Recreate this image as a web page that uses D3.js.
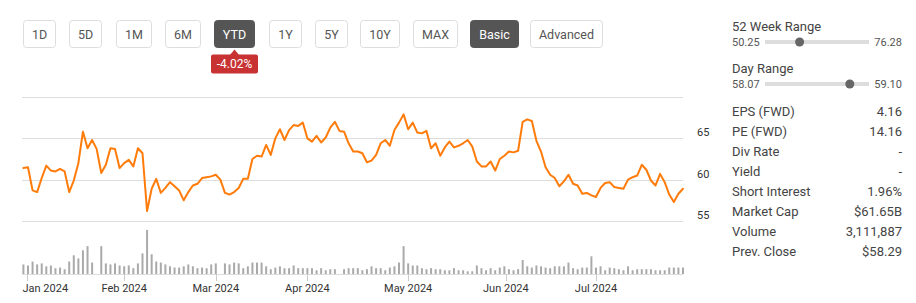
<!DOCTYPE html>
<html>
<head>
<meta charset="utf-8">
<script src="https://cdn.jsdelivr.net/npm/d3@7"></script>
<style>
  html, body { margin: 0; padding: 0; background: #fff; }
  svg { display: block; font-family: Roboto, "Noto Sans", sans-serif; }
</style>
</head>
<body>
<svg id="chart" width="916" height="303"></svg>
<script>
// ---------- data ----------
const rangeButtons = ["1D", "5D", "1M", "6M", "YTD", "1Y", "5Y", "10Y", "MAX"];
const modeButtons = ["Basic", "Advanced"];
const activeRange = "YTD";
const activeMode = "Basic";
const ytdChange = "-4.02%";

const prices = [
  61.4, 61.5, 58.7, 58.5, 60.2, 61.7, 61.1, 61.0, 61.3, 61.0,
  58.5, 59.9, 62.0, 65.8, 63.8, 64.8, 63.7, 60.8, 61.8, 63.8,
  63.7, 61.4, 62.0, 62.4, 61.6, 63.8, 63.2, 56.2, 58.9, 60.1,
  58.4, 59.0, 59.7, 59.2, 58.7, 57.5, 58.5, 59.3, 59.5, 60.2,
  60.3, 60.4, 60.6, 60.0, 58.4, 58.2, 58.5, 59.0, 60.1, 60.1,
  62.5, 62.9, 62.8, 64.2, 63.0, 65.0, 66.1, 64.8, 66.0, 66.6,
  66.5, 66.9, 65.0, 64.6, 65.3, 64.5, 65.1, 66.3, 67.0, 65.9,
  65.8, 64.4, 63.4, 63.4, 63.2, 62.1, 62.3, 63.0, 64.4, 64.8,
  64.1, 66.0, 66.9, 67.9, 66.1, 66.9, 65.7, 65.6, 65.9, 63.8,
  64.4, 62.9, 63.9, 64.6, 63.9, 64.1, 64.4, 64.8, 64.0, 62.2,
  61.6, 61.6, 62.2, 61.1, 62.5, 62.9, 63.4, 63.3, 63.5, 67.0,
  67.3, 67.1, 64.7, 63.4, 61.5, 60.6, 60.2, 59.2, 59.8, 60.6,
  59.5, 59.3, 58.3, 58.4, 58.1, 57.9, 59.0, 59.6, 59.7, 59.1,
  59.0, 58.9, 60.0, 60.3, 60.5, 61.8, 61.2, 59.9, 59.3, 60.7,
  59.7, 58.2, 57.3, 58.3, 58.9
];

// volume in millions of shares (null = no bar)
const volumes = [
  4.6, 4.1, 6.0, 4.6, 5.1, 3.7, 4.1, 2.8, 3.1, 2.3,
  6.0, 9.0, 7.5, 11.4, 13.4, 5.5, null, 13.4, 5.1, 4.6,
  5.1, 4.1, 3.7, 4.1, 2.8, 5.1, 9.9, 21.2, 9.5, 6.0,
  5.5, 4.6, 3.7, 3.1, 3.1, 3.7, 4.6, 3.7, 2.8, 3.1,
  2.8, 4.6, 5.1, null, 5.1, 4.6, 5.5, 5.1, 2.8, 3.7,
  5.5, 5.5, 5.5, 3.7, 2.3, 3.1, 3.7, 2.8, 2.8, 4.1,
  2.8, 2.8, 2.8, 2.8, 1.8, 2.8, 1.8, 2.3, 2.3, null,
  2.3, 2.8, 2.8, 2.8, 1.8, 2.3, 3.7, 2.8, 2.8, 1.8,
  3.1, 3.7, 5.5, 13.4, 5.1, 4.1, 4.1, 2.8, 2.3, 2.8,
  2.3, 2.3, 1.8, 1.8, 2.8, 1.8, 1.8, 1.3, 1.3, 4.1,
  2.8, 1.8, 2.8, 1.8, 3.1, 3.7, 2.3, 1.8, 2.3, 6.7,
  3.7, 3.1, 4.1, 3.7, 3.1, 2.8, 3.7, 3.7, 3.7, 5.5,
  2.8, 2.3, 3.1, 3.1, 8.5, 3.1, 3.7, 1.8, 3.1, 2.8,
  2.3, 1.8, 3.7, 1.8, 2.3, 2.3, 2.3, 2.3, 1.8, 1.8,
  1.8, 3.1, 3.1, 3.1, 3.1
];

// x-axis month ticks, positioned in trading-day index units
const monthTickIndex = [0.75, 22, 42, 62, 84, 105.33, 125];
const monthTickLabels = ["Jan 2024", "Feb 2024", "Mar 2024", "Apr 2024", "May 2024", "Jun 2024", "Jul 2024"];

const priceTicks = [55, 60, 65, 70];
const priceTickLabels = ["55", "60", "65", ""];

const week52 = { low: "50.25", high: "76.28", lowV: 50.25, highV: 76.28 };
const dayRange = { low: "58.07", high: "59.10", lowV: 58.07, highV: 59.10 };
const currentPrice = 58.91;

const statLabels = ["EPS (FWD)", "PE (FWD)", "Div Rate", "Yield", "Short Interest", "Market Cap", "Volume", "Prev. Close"];
const statValues = ["4.16", "14.16", "-", "-", "1.96%", "$61.65B", "3,111,887", "$58.29"];

// ---------- drawing ----------
const svg = d3.select("#chart");

// Buttons
const btnG = svg.append("g");
const allButtons = rangeButtons.map((t, i) => ({ t, group: 0, i }))
  .concat(modeButtons.map((t, i) => ({ t, group: 1, i })));
let bx = 22.5;
const btnTop = 20.5, btnH = 27;
const btnInfo = [];
allButtons.forEach((b, k) => {
  const active = b.t === activeRange || b.t === activeMode;
  const g = btnG.append("g");
  const txt = g.append("text")
    .attr("y", btnTop + btnH / 2)
    .attr("dominant-baseline", "central")
    .attr("text-anchor", "middle")
    .attr("font-size", 12.5)
    .attr("fill", active ? "#fff" : "#555")
    .text(b.t);
  const tw = txt.node().getComputedTextLength();
  const w = tw + 17;
  g.insert("rect", "text")
    .attr("x", Math.round(bx) + 0.5).attr("y", btnTop)
    .attr("width", Math.round(w)).attr("height", btnH)
    .attr("rx", 3)
    .attr("fill", active ? "#555" : "#fff")
    .attr("stroke", active ? "#555" : "#ddd");
  txt.attr("x", Math.round(bx) + 0.5 + Math.round(w) / 2);
  btnInfo.push({ t: b.t, x: Math.round(bx) + 0.5, w: Math.round(w) });
  const next = allButtons[k + 1];
  bx += w + (next && next.group !== b.group ? 12.5 : (b.group === 1 ? 12.5 : 14.3));
});

// YTD badge
const ytd = btnInfo.find(b => b.t === activeRange);
const bcx = ytd.x + ytd.w / 2;
const badge = svg.append("g");
const bw = 47, bh = 19, btop = 54.5;
badge.append("path")
  .attr("d", `M${bcx - 5},${btop + 1} L${bcx},${btop - 5} L${bcx + 5},${btop + 1} Z`)
  .attr("fill", "#c83232");
badge.append("rect")
  .attr("x", bcx - bw / 2).attr("y", btop)
  .attr("width", bw).attr("height", bh).attr("rx", 2)
  .attr("fill", "#c83232");
badge.append("text")
  .attr("x", bcx).attr("y", btop + bh / 2)
  .attr("dominant-baseline", "central").attr("text-anchor", "middle")
  .attr("font-size", 12).attr("fill", "#fff")
  .text(ytdChange);

// Scales
const x = d3.scaleLinear().domain([0, prices.length - 1]).range([23.4, 683]);
const y = d3.scaleLinear().domain([55, 70]).range([221, 97]);
const yv = d3.scaleLinear().domain([0, 25.5]).range([274, 221]);
const gridX0 = 22, gridX1 = 683;

// Gridlines
const grid = svg.append("g");
grid.selectAll("line").data(priceTicks).join("line")
  .attr("x1", gridX0).attr("x2", gridX1)
  .attr("y1", d => Math.round(y(d)) + 0.5).attr("y2", d => Math.round(y(d)) + 0.5)
  .attr("stroke", "#ddd").attr("stroke-width", 1);

// Price axis labels
svg.append("g").selectAll("text").data(priceTicks).join("text")
  .attr("x", 697)
  .attr("y", d => y(d) - 5.5)
  .attr("dominant-baseline", "central")
  .attr("font-size", 11)
  .attr("fill", "#333")
  .text((d, i) => priceTickLabels[i]);

// Volume bars
svg.append("g").selectAll("rect")
  .data(volumes.map((v, i) => ({ v, i })).filter(d => d.v != null))
  .join("rect")
  .attr("x", d => x(d.i) - 1)
  .attr("width", 2)
  .attr("y", d => yv(d.v))
  .attr("height", d => yv(0) - yv(d.v))
  .attr("fill", "#aaa");

// Volume baseline
svg.append("line")
  .attr("x1", gridX0).attr("x2", gridX1)
  .attr("y1", 274.5).attr("y2", 274.5)
  .attr("stroke", "#ddd");

// Month ticks
const xt = svg.append("g");
xt.selectAll("line").data(monthTickIndex).join("line")
  .attr("x1", d => Math.round(x(d)) + 0.5).attr("x2", d => Math.round(x(d)) + 0.5)
  .attr("y1", 274).attr("y2", 281)
  .attr("stroke", "#ccc");
xt.selectAll("text").data(monthTickIndex).join("text")
  .attr("y", 288)
  .attr("dominant-baseline", "central")
  .attr("text-anchor", "start")
  .attr("font-size", 11)
  .attr("fill", "#333")
  .text((d, i) => monthTickLabels[i])
  .attr("x", function (d) {
    const w = this.getComputedTextLength();
    return Math.max(gridX0 + 0.5, x(d) - w / 2);
  });

// Price line
svg.append("path")
  .datum(prices)
  .attr("d", d3.line().x((d, i) => x(i)).y(d => y(d)))
  .attr("fill", "none")
  .attr("stroke", "#ff7b0a")
  .attr("stroke-width", 2)
  .attr("stroke-linejoin", "round")
  .attr("stroke-linecap", "round");

// Right panel
const rp = svg.append("g");
const rx0 = 732, rx1 = 902;
function rangeBlock(title, r, ty) {
  rp.append("text").attr("x", rx0).attr("y", ty).attr("dominant-baseline", "central")
    .attr("font-size", 13).attr("fill", "#444").text(title);
  const sy = ty + 16;
  rp.append("text").attr("x", rx0).attr("y", sy).attr("dominant-baseline", "central")
    .attr("font-size", 11).attr("fill", "#555").text(r.low);
  rp.append("text").attr("x", rx1).attr("y", sy).attr("dominant-baseline", "central")
    .attr("text-anchor", "end").attr("font-size", 11).attr("fill", "#555").text(r.high);
  const s = d3.scaleLinear().domain([r.lowV, r.highV]).range([765, 869]).clamp(true);
  rp.append("rect").attr("x", 765).attr("y", sy - 2).attr("width", 104).attr("height", 4)
    .attr("fill", "#ddd");
  rp.append("circle").attr("cx", s(currentPrice)).attr("cy", sy).attr("r", 4.5).attr("fill", "#666");
}
rangeBlock("52 Week Range", week52, 26);
rangeBlock("Day Range", dayRange, 68);

rp.selectAll("text.sl").data(statLabels).join("text")
  .attr("class", "sl")
  .attr("x", rx0).attr("y", (d, i) => 111 + i * 20)
  .attr("dominant-baseline", "central")
  .attr("font-size", 13).attr("fill", "#444")
  .text(d => d);
rp.selectAll("text.sv").data(statValues).join("text")
  .attr("class", "sv")
  .attr("x", rx1).attr("y", (d, i) => 111 + i * 20)
  .attr("dominant-baseline", "central")
  .attr("text-anchor", "end")
  .attr("font-size", 13).attr("fill", "#444")
  .text(d => d);
</script>
</body>
</html>
